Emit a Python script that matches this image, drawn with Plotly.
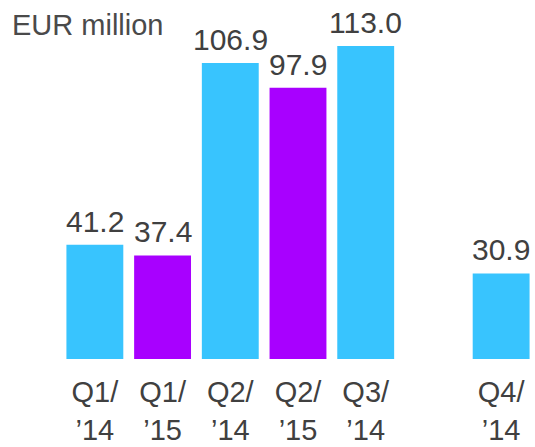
import plotly.graph_objects as go

categories = ["Q1/<br>’14", "Q1/<br>’15", "Q2/<br>’14", "Q2/<br>’15", "Q3/<br>’14", "", "Q4/<br>’14"]
values = [41.2, 37.4, 106.9, 97.9, 113.0, None, 30.9]
years = ["14", "15", "14", "15", "14", "", "14"]
unit_label = "EUR million"

COL14 = "#38C4FE"
COL15 = "#A800FF"
TXT = "#404040"
FONT = "Liberation Sans, Arial, sans-serif"

positions = list(range(len(categories)))
colors = [COL14 if y == "14" else COL15 for y in years]

fig = go.Figure()
fig.add_trace(go.Bar(
    x=positions,
    y=[0 if v is None else v for v in values],
    marker=dict(color=colors, line=dict(width=0)),
    hoverinfo="skip",
))

for p, v in zip(positions, values):
    if v is None:
        continue
    fig.add_annotation(
        x=p, y=v, xref="x", yref="y",
        text=f"{v:.1f}", showarrow=False,
        xanchor="center", yanchor="bottom", yshift=5,
        font=dict(family=FONT, size=30, color=TXT),
    )

tick_pos = [p for p, c in zip(positions, categories) if c]
tick_txt = [c for c in categories if c]

fig.update_layout(
    width=535, height=447,
    margin=dict(l=61, r=0, t=0, b=88, autoexpand=False),
    paper_bgcolor="white", plot_bgcolor="white",
    bargap=0.16,
    showlegend=False,
    font=dict(family=FONT, color=TXT),
    title=dict(
        text=unit_label,
        font=dict(size=29, color="#4a4a4a"),
        xref="container", yref="container",
        x=12 / 535, xanchor="left",
        y=1 - 15 / 447, yanchor="top",
    ),
    xaxis=dict(
        range=[-0.5, 6.5],
        tickmode="array", tickvals=tick_pos, ticktext=tick_txt,
        tickfont=dict(size=29, color=TXT),
        ticks="outside", ticklen=7, tickcolor="rgba(0,0,0,0)",
        showgrid=False, zeroline=False, showline=False,
        automargin=False,
        fixedrange=True,
    ),
    yaxis=dict(
        range=[0, 129.6],
        visible=False, showgrid=False, zeroline=False,
        automargin=False,
        fixedrange=True,
    ),
)

fig.write_html(
    "out.html",
    config={"displayModeBar": False, "staticPlot": True},
    post_script="document.body.style.margin='0';document.body.style.overflow='hidden';",
)
